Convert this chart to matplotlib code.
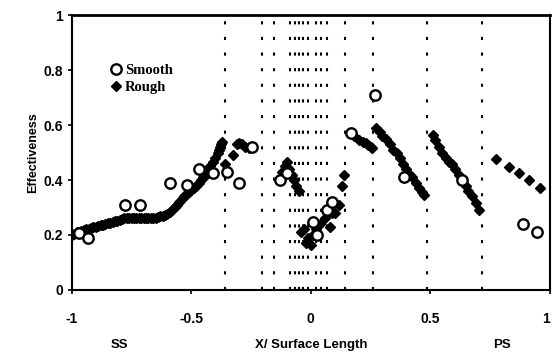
import matplotlib
matplotlib.use("Agg")
import matplotlib.pyplot as plt
from matplotlib.lines import Line2D

# ---- data ----
smooth_x = [-0.971, -0.933, -0.779, -0.713, -0.588, -0.52, -0.467, -0.41, -0.35, -0.30,
            -0.246, -0.13, -0.10, 0.008, 0.025, 0.067, 0.09, 0.17, 0.267, 0.39, 0.633, 0.89, 0.946]
smooth_y = [0.207, 0.189, 0.309, 0.309, 0.389, 0.382, 0.44, 0.425, 0.43, 0.39,
            0.52, 0.40, 0.425, 0.247, 0.20, 0.29, 0.32, 0.57, 0.709, 0.41, 0.40, 0.24, 0.21]

rough_x = [-1.0, -0.99, -0.98, -0.97, -0.96, -0.95, -0.94, -0.93, -0.92, -0.91, -0.90, -0.89,
           -0.88, -0.87, -0.86, -0.85, -0.84, -0.83, -0.82, -0.81, -0.80, -0.79, -0.78, -0.77,
           -0.76, -0.75, -0.74, -0.73, -0.72, -0.71, -0.70, -0.69, -0.68, -0.67, -0.66, -0.65,
           -0.64, -0.63, -0.62, -0.61, -0.60, -0.59, -0.58, -0.57, -0.56, -0.55, -0.54, -0.53,
           -0.52, -0.51, -0.50, -0.49, -0.48, -0.47, -0.46, -0.45, -0.44, -0.43, -0.42, -0.41,
           -0.40, -0.39, -0.385, -0.38, -0.375, -0.37,
           -0.36, -0.325, -0.31, -0.30, -0.29, -0.275, -0.26,
           -0.12, -0.11, -0.10, -0.09, -0.08, -0.07, -0.06, -0.05,
           -0.04, -0.03, -0.02, -0.01, 0.0, 0.01, 0.02, 0.04, 0.06, 0.08, 0.09, 0.10, 0.12, 0.13, 0.14,
           0.18, 0.20, 0.22, 0.23, 0.24, 0.25, 0.255,
           0.275, 0.29, 0.30, 0.315, 0.33, 0.345, 0.36, 0.375, 0.385, 0.40, 0.415, 0.425, 0.44, 0.455, 0.465, 0.475,
           0.51, 0.52, 0.537, 0.55, 0.565, 0.58, 0.59, 0.605, 0.62, 0.635, 0.65, 0.66, 0.675, 0.69, 0.705,
           0.775, 0.83, 0.87, 0.912, 0.96]
rough_y = [0.20, 0.205, 0.21, 0.212, 0.215, 0.218, 0.22, 0.222, 0.225, 0.228, 0.23, 0.232,
           0.235, 0.238, 0.24, 0.243, 0.245, 0.248, 0.25, 0.252, 0.255, 0.258, 0.26, 0.261,
           0.262, 0.263, 0.263, 0.262, 0.262, 0.261, 0.26, 0.26, 0.26, 0.261, 0.262, 0.263,
           0.265, 0.268, 0.27, 0.272, 0.275, 0.282, 0.29, 0.30, 0.31, 0.32, 0.33, 0.34,
           0.35, 0.357, 0.365, 0.372, 0.38, 0.39, 0.40, 0.41, 0.42, 0.435, 0.45, 0.465,
           0.48, 0.50, 0.51, 0.52, 0.53, 0.54,
           0.46, 0.49, 0.53, 0.535, 0.53, 0.52, 0.515,
           0.43, 0.45, 0.465, 0.44, 0.42, 0.40, 0.38, 0.36,
           0.21, 0.22, 0.17, 0.19, 0.165, 0.20, 0.22, 0.24, 0.26, 0.23, 0.28, 0.28, 0.31, 0.38, 0.42,
           0.56, 0.545, 0.54, 0.535, 0.527, 0.52, 0.515,
           0.59, 0.575, 0.56, 0.55, 0.53, 0.51, 0.50, 0.48, 0.46, 0.44, 0.42, 0.41, 0.39, 0.37, 0.355, 0.345,
           0.563, 0.545, 0.52, 0.50, 0.48, 0.465, 0.46, 0.44, 0.42, 0.40, 0.38, 0.36, 0.34, 0.315, 0.29,
           0.476, 0.447, 0.425, 0.40, 0.37]

boundaries = [-0.36, -0.205, -0.155, -0.085, -0.068, -0.05, -0.032, -0.013, 0.02, 0.042, 0.066,
              0.145, 0.26, 0.485, 0.715]

xticks = [-1, -0.5, 0, 0.5, 1]
xtick_labels = ["-1", "-0.5", "0", "0.5", "1"]
yticks = [0, 0.2, 0.4, 0.6, 0.8, 1]
ytick_labels = ["0", "0.2", "0.4", "0.6", "0.8", "1"]

# ---- figure ----
fig = plt.figure(figsize=(5.53, 3.58), dpi=100)
ax = fig.add_axes([0.130, 0.190, 0.864, 0.768])
sans = "Liberation Sans"

for b in boundaries:
    ax.plot([b, b], [0, 1], color="black", lw=1.5, linestyle=(0, (1.5, 6.0)), zorder=1)

ax.plot(rough_x, rough_y, linestyle="none", marker="D", ms=5.5, color="black", zorder=2)
ax.plot(smooth_x, smooth_y, linestyle="none", marker="o", ms=7.5, mfc="white", mec="black",
        mew=1.7, zorder=3)

ax.set_xlim(-1, 1)
ax.set_ylim(0, 1)
ax.set_xticks(xticks)
ax.set_xticklabels(xtick_labels, fontfamily=sans, fontweight="bold", fontsize=10)
ax.get_xticklabels()[-1].set_ha("right")
ax.set_yticks(yticks)
ax.set_yticklabels(ytick_labels, fontfamily=sans, fontweight="bold", fontsize=10)
ax.tick_params(axis="both", direction="out", length=3, width=1.2)
ax.tick_params(axis="x", pad=13)
for s in ax.spines.values():
    s.set_linewidth(1.5)
ax.spines["top"].set_linewidth(2)

ax.set_ylabel("Effectiveness", fontfamily=sans, fontweight="bold", fontsize=9, labelpad=3)

ax.text(-0.80, -0.20, "SS", transform=ax.transData, ha="center", va="center",
        fontfamily=sans, fontweight="bold", fontsize=9.5)
ax.text(0.0, -0.20, "X/ Surface Length", transform=ax.transData, ha="center", va="center",
        fontfamily=sans, fontweight="bold", fontsize=9.5)
ax.text(0.80, -0.20, "PS", transform=ax.transData, ha="center", va="center",
        fontfamily=sans, fontweight="bold", fontsize=9.5)

handles = [Line2D([], [], linestyle="none", marker="o", ms=7.5, mfc="white", mec="black", mew=1.7),
           Line2D([], [], linestyle="none", marker="D", ms=5, color="black")]
leg = ax.legend(handles, ["Smooth", "Rough"], loc="upper left", bbox_to_anchor=(0.05, 0.87),
                frameon=False, handletextpad=0.1, handlelength=1.0, labelspacing=0.25,
                prop={"family": "Liberation Serif", "weight": "bold", "size": 10.5})

fig.savefig("out.png", dpi=100)
